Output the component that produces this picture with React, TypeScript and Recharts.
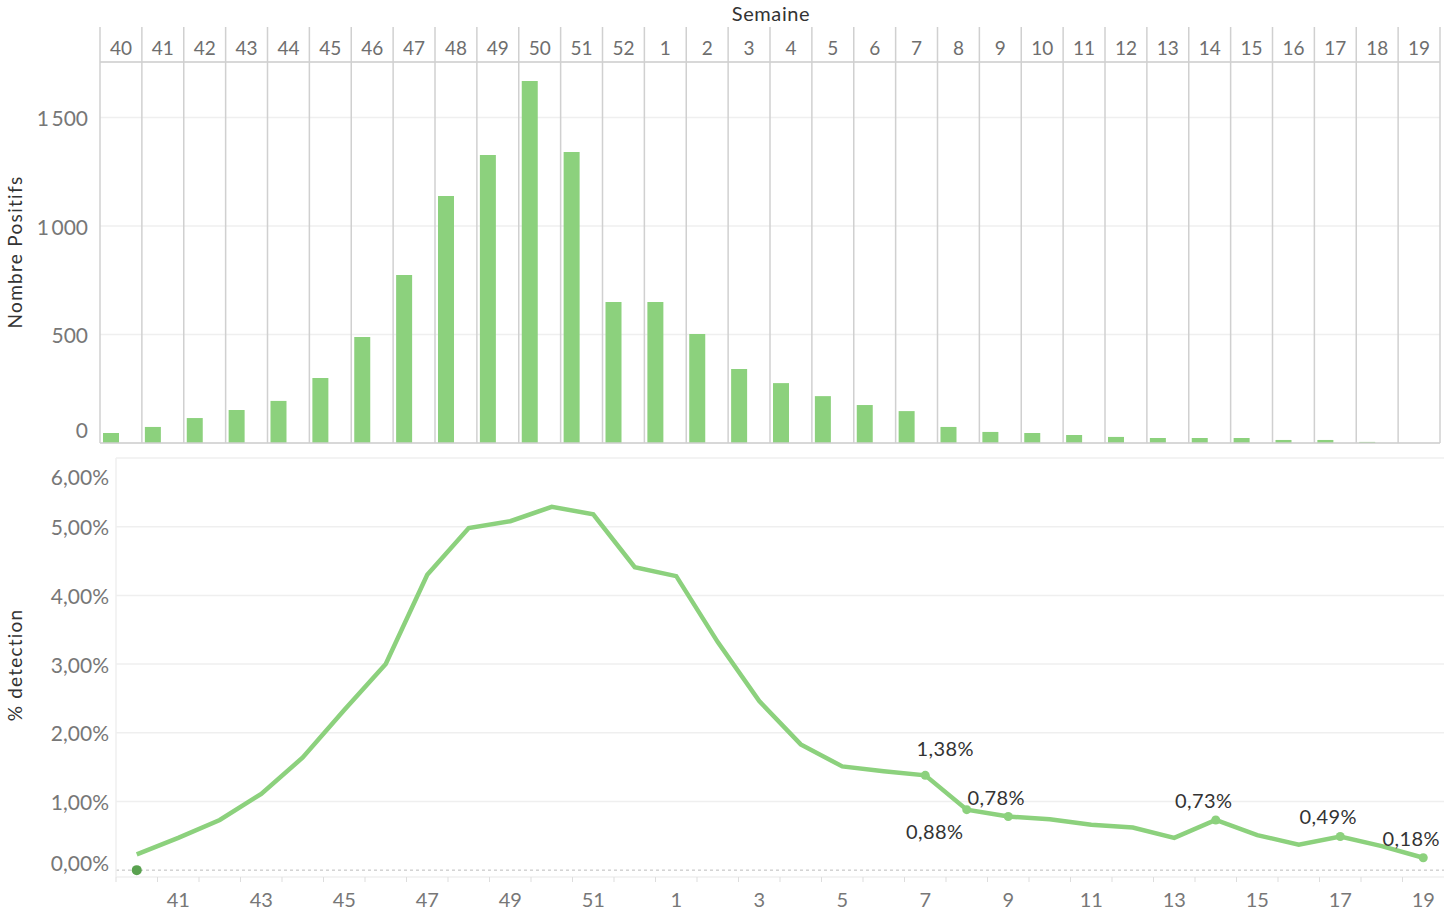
import React from 'react';
import {
  BarChart, Bar, LineChart, Line, XAxis, YAxis, CartesianGrid, ReferenceLine, LabelList,
} from 'recharts';

// ---------- data ----------
const weeks = ['40','41','42','43','44','45','46','47','48','49','50','51','52',
  '1','2','3','4','5','6','7','8','9','10','11','12','13','14','15','16','17','18','19'];

const positifs = [46,74,115,152,194,300,488,774,1138,1327,1668,1341,650,
  650,502,341,276,216,175,147,74,51,46,37,28,23,23,23,14,14,5,0];

const detection = [0.23,0.47,0.73,1.11,1.64,2.33,3.0,4.30,4.98,5.08,5.29,5.18,4.41,
  4.28,3.32,2.46,1.83,1.51,1.44,1.38,0.88,0.78,0.74,0.66,0.62,0.47,0.73,0.51,0.37,0.49,0.35,0.18];

const pointLabels = [null,null,null,null,null,null,null,null,null,null,null,null,null,
  null,null,null,null,null,null,'1,38%','0,88%','0,78%',null,null,null,null,'0,73%',null,null,'0,49%',null,'0,18%'];

const zeroMarker = [0, ...Array(31).fill(null)];

const topTicks = [0, 500, 1000, 1500];
const pctTicks = [0, 1, 2, 3, 4, 5, 6];

const topData = weeks.map((w, i) => ({ week: w, positifs: positifs[i], vide: null }));
const botData = weeks.map((w, i) => ({ week: w, pct: detection[i], label: pointLabels[i], zero: zeroMarker[i] }));

// ---------- style ----------
const FONT = 'Lato, "Open Sans", sans-serif';
const GREEN = '#8CD17D';
const DARK_GREEN = '#59A14F';
const W = 1444;
const TOP_H = 450;
const TOP_LEFT = 100;
const TOP_RIGHT_MARGIN = 4;
const TOP_PLOT_W = W - TOP_LEFT - TOP_RIGHT_MARGIN;
const BOT_H = 469;
const BOT_LEFT = 116;
const BOT_PLOT_W = W - BOT_LEFT;
const BOT_BW = BOT_PLOT_W / weeks.length;

const fmtThousands = (v: number) => {
  const s = String(v);
  return s.length > 3 ? s.slice(0, s.length - 3) + '\u2009' + s.slice(s.length - 3) : s;
};

const TopTick = (props: any) => {
  const { x, index, payload } = props;
  const bw = TOP_PLOT_W / weeks.length;
  const left = x - bw / 2;
  return (
    <g>
      <line x1={left} x2={left} y1={27} y2={443} stroke="#d0d0d0" strokeWidth={1.5} />
      {index === weeks.length - 1 && (
        <line x1={x + bw / 2} x2={x + bw / 2} y1={27} y2={443} stroke="#d0d0d0" strokeWidth={1.5} />
      )}
      <text x={x} y={47} textAnchor="middle" dominantBaseline="central" fill="#6e6e6e" fontSize={19} fontFamily={FONT}>
        {payload.value}
      </text>
    </g>
  );
};

const TopYTick = (props: any) => {
  const { x, y, payload } = props;
  const dy = payload.value === 0 ? -14 : 0;
  return (
    <text x={x - 4} y={y + dy} textAnchor="end" dominantBaseline="central" fill="#777" fontSize={21} fontFamily={FONT}>
      {fmtThousands(payload.value)}
    </text>
  );
};

const BottomTick = (props: any) => {
  const { x, index, payload } = props;
  return (
    <g>
      <line x1={x - BOT_BW / 2} x2={x - BOT_BW / 2} y1={432} y2={437} stroke="#ddd" />
      {index % 2 === 1 && (
        <text x={x} y={454} textAnchor="middle" dominantBaseline="central" fill="#777" fontSize={20} fontFamily={FONT}>
          {payload.value}
        </text>
      )}
    </g>
  );
};

const PctYTick = (props: any) => {
  const { x, y, payload } = props;
  const v = payload.value;
  const dy = v === 6 ? 18 : v === 0 ? -8 : 0;
  return (
    <text x={x + 1} y={y + dy} textAnchor="end" dominantBaseline="central" fill="#777" fontSize={21} fontFamily={FONT}>
      {v.toFixed(2).replace('.', ',') + '%'}
    </text>
  );
};

const labelOffsets: Record<string, [number, number]> = {
  '7': [20, -27],
  '8': [-32, 21],
};

const PointLabel = (props: any) => {
  const { x, y, value, index } = props;
  if (!value) return null;
  const wk = weeks[index];
  const [dx, dy] = labelOffsets[wk] || [-12, -20];
  return (
    <text x={x + dx} y={y + dy} textAnchor="middle" dominantBaseline="central" fill="#333" fontSize={20}
      letterSpacing={0.4} fontFamily={FONT}>
      {value}
    </text>
  );
};

const PointDot = (props: any) => {
  const { cx, cy, index } = props;
  if (!pointLabels[index] || cx == null || cy == null) return <g key={`d${index}`} />;
  return <circle key={`d${index}`} cx={cx} cy={cy} r={4.5} fill={GREEN} />;
};

export default function App() {
  return (
    <div style={{ position: 'absolute', left: 0, top: 0, width: W, height: 914, background: '#fff', fontFamily: FONT }}>
      <div style={{ position: 'absolute', left: 0, top: 0 }}>
        <BarChart width={W} height={TOP_H} data={topData}
          margin={{ top: 27, right: TOP_RIGHT_MARGIN, left: 0, bottom: 7 }} barSize={16} barGap={3}>
          <CartesianGrid vertical={false} stroke="#efefef" strokeWidth={1.5} />
          <XAxis dataKey="week" orientation="top" height={35} interval={0} tickLine={false}
            axisLine={{ stroke: '#cfcfcf', strokeWidth: 1.5 }} tick={TopTick} />
          <YAxis width={TOP_LEFT} domain={[0, 1756]} ticks={topTicks} interval={0} axisLine={false} tickLine={false}
            tick={TopYTick} />
          <ReferenceLine y={0} stroke="#cfcfcf" strokeWidth={1.5} />
          <Bar dataKey="positifs" fill={GREEN} isAnimationActive={false} />
          <Bar dataKey="vide" fill={GREEN} isAnimationActive={false} />
        </BarChart>
      </div>
      <div style={{ position: 'absolute', left: 0, top: 445 }}>
        <LineChart width={W} height={BOT_H} data={botData} margin={{ top: 13, right: 0, left: 0, bottom: 0 }}>
          <CartesianGrid vertical={false} stroke="#efefef" strokeWidth={1.5} horizontalValues={[1, 2, 3, 4, 5, 6]} />
          <XAxis dataKey="week" height={37} interval={0} tickLine={false} padding={{ left: BOT_BW / 2, right: BOT_BW / 2 }}
            axisLine={{ stroke: '#efefef', strokeWidth: 1.5 }} tick={BottomTick} />
          <YAxis width={BOT_LEFT} domain={[-0.1, 6]} ticks={pctTicks} interval={0}
            axisLine={{ stroke: '#efefef', strokeWidth: 1.5 }} tickLine={false} tick={PctYTick} allowDataOverflow />
          <ReferenceLine y={0} stroke="#bbb" strokeDasharray="3 3" />
          <Line dataKey="pct" type="linear" stroke={GREEN} strokeWidth={4.5} dot={PointDot} activeDot={false}
            isAnimationActive={false}>
            <LabelList dataKey="label" content={PointLabel} />
          </Line>
          <Line dataKey="zero" stroke="none" dot={{ r: 5, fill: DARK_GREEN, stroke: 'none' }} activeDot={false}
            isAnimationActive={false} />
        </LineChart>
      </div>
      <svg width={W} height={914} style={{ position: 'absolute', left: 0, top: 0, pointerEvents: 'none' }}>
        <text x={771} y={13} textAnchor="middle" dominantBaseline="central" fill="#333" fontSize={20}
          letterSpacing={0.6} fontFamily={FONT}>
          Semaine
        </text>
        <text transform="translate(14,252) rotate(-90)" textAnchor="middle" dominantBaseline="central" fill="#333"
          fontSize={19} letterSpacing={1.3} fontFamily={FONT}>
          Nombre Positifs
        </text>
        <text transform="translate(14,665) rotate(-90)" textAnchor="middle" dominantBaseline="central" fill="#333"
          fontSize={19} letterSpacing={1.2} fontFamily={FONT}>
          % detection
        </text>
      </svg>
    </div>
  );
}
